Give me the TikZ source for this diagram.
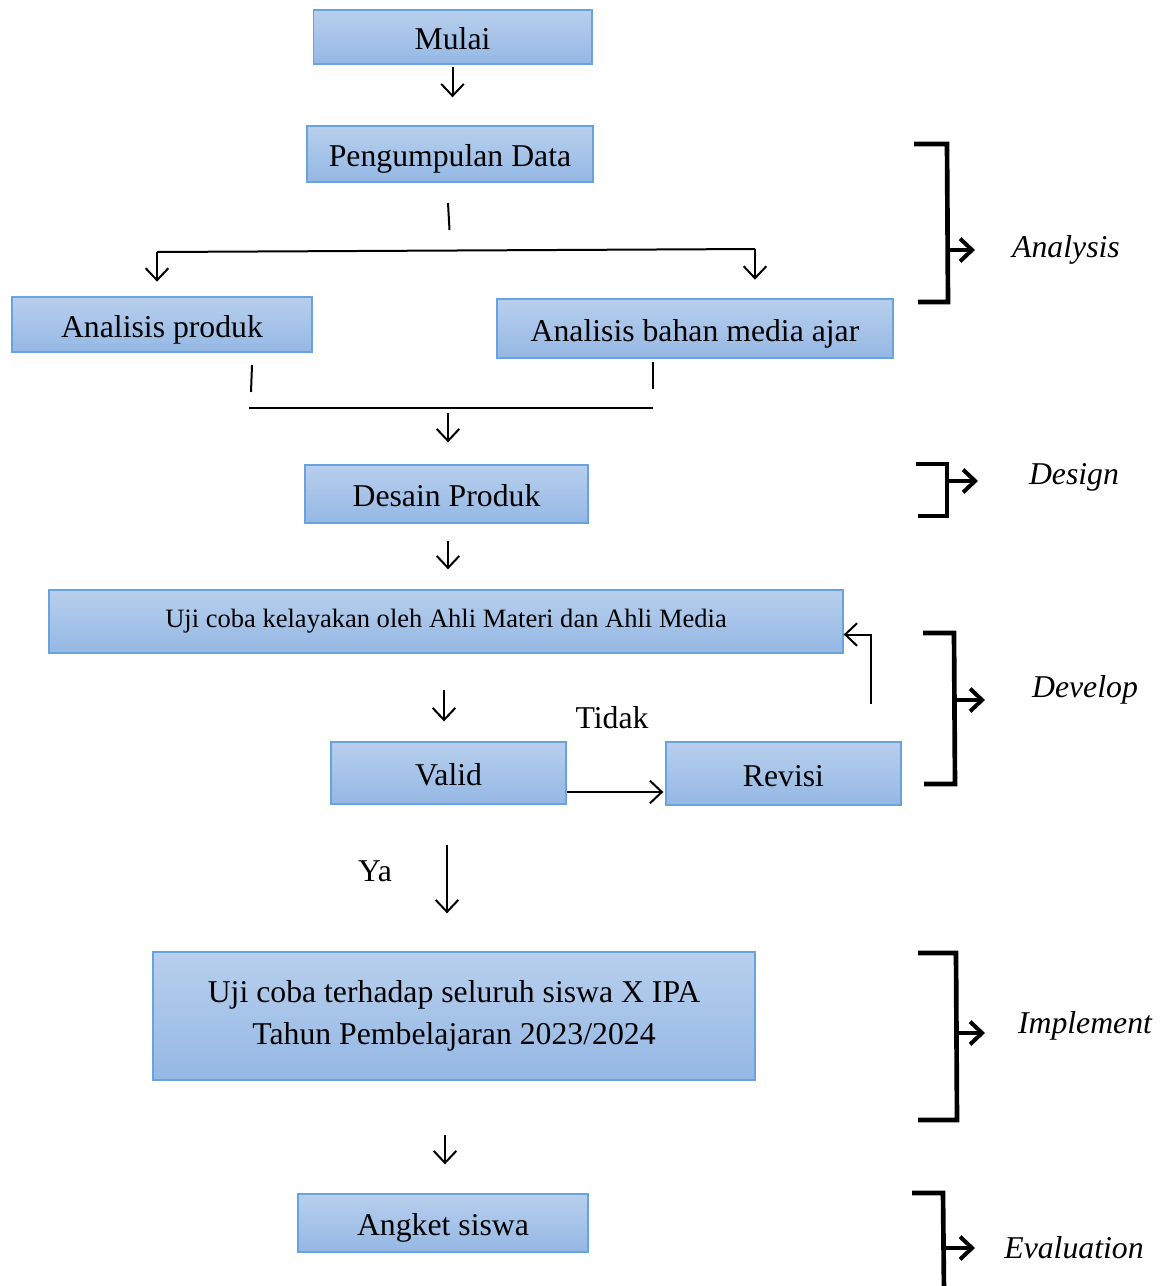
\documentclass[tikz,border=0pt]{standalone}
\usepackage{fontspec}
\setmainfont{Liberation Serif}
\usetikzlibrary{arrows.meta}
\usetikzlibrary{positioning}

\definecolor{boxtop}{RGB}{184,207,237}
\definecolor{boxbot}{RGB}{148,184,228}
\definecolor{boxline}{RGB}{104,163,222}

\tikzset{
  box/.style={rectangle, draw=boxline, line width=1pt, top color=boxtop, bottom color=boxbot,
    inner sep=0pt, align=center, text height=19pt, text depth=0pt, font=\fontsize{23.8}{31.5}\selectfont},
  line/.style={line width=1.5pt},
  brack/.style={line width=3.5pt},
  barrow/.style={line width=3pt, -{Straight Barb[length=9pt,width=17pt]}},
  phase/.style={font=\fontsize{23.8}{28}\selectfont\itshape},
  lbl/.style={font=\fontsize{23.8}{28}\selectfont}
}

\begin{document}
\begin{tikzpicture}[x=0.75pt, y=-0.75pt, >={Straight Barb[length=9pt,width=17pt]}]
  \useasboundingbox (0,0) rectangle (1172,1286);

  % boxes
  \node[box, minimum width=209pt, minimum height=40.5pt] (mulai) at (452.5,37) {Mulai};
  \node[box, minimum width=214.5pt, minimum height=42pt] (data) at (450,154) {Pengumpulan Data};
  \node[box, minimum width=225pt, minimum height=41.25pt] (ap) at (162,324.5) {Analisis produk};
  \node[box, minimum width=297pt, minimum height=44.25pt] (abm) at (695,328.5) {Analisis bahan media ajar};
  \node[box, minimum width=212.25pt, minimum height=43.5pt] (desain) at (446.5,494) {Desain Produk};
  \node[box, minimum width=595.5pt, minimum height=47.25pt, text height=, text depth=, font=\fontsize{19.9}{24}\selectfont] (uji) at (446,621.5) {Uji coba kelayakan oleh Ahli Materi dan Ahli Media};
  \node[box, minimum width=176.25pt, minimum height=46.5pt] (valid) at (448.5,773) {Valid};
  \node[box, minimum width=176.25pt, minimum height=47.25pt] (revisi) at (783.5,773.5) {Revisi};
  \node[box, minimum width=451.5pt, minimum height=96pt, text height=, text depth=] (ujis) at (454,1016) {Uji coba terhadap seluruh siswa X IPA\\Tahun Pembelajaran 2023/2024};
  \node[box, minimum width=217.5pt, minimum height=43.5pt] (angket) at (443,1223) {Angket siswa};

  \node[lbl] (tidak) at (612,718) {Tidak};
  \node[lbl] (ya) at (375,871) {Ya};

  % flow
  \draw[line, ->, shorten <=1.5pt, shorten >=21pt] (mulai.south) -- (mulai.south |- data.north);

  \coordinate (d1) at (448,203);
  \coordinate (d2) at (449.5,230);
  \coordinate (jl) at (157,252);
  \coordinate (jr) at (755,249);
  \draw[line] (d1) -- (d2);
  \draw[line] (jl) -- (jr);
  \draw[line, ->, shorten >=11pt] (jl) -- (jl |- ap.north);
  \draw[line, ->, shorten >=14pt] (jr) -- (jr |- abm.north);

  \coordinate (m1) at (252,365);
  \coordinate (m2) at (251,392);
  \coordinate (m3) at (653,362);
  \coordinate (m4) at (653,389);
  \coordinate (ml) at (249,408);
  \coordinate (mr) at (653,408);
  \draw[line] (m1) -- (m2);
  \draw[line] (m3) -- (m4);
  \draw[line] (ml) -- (mr);
  \coordinate (m5) at (448,413);
  \draw[line, ->, shorten >=16.5pt] (m5) -- (m5 |- desain.north);

  \coordinate (u1) at (448,541);
  \draw[line, ->, shorten >=15pt] (u1) -- (u1 |- uji.north);

  \coordinate (v1) at (444,690);
  \draw[line, ->, shorten >=15pt] (v1) -- (v1 |- valid.north);

  \draw[line, ->, shorten >=1.5pt] ([yshift=-14.25pt]valid.east) -- ([yshift=-14.25pt]valid.east -| revisi.west);

  \coordinate (r1) at (871,704);
  \draw[line, ->] (r1) |- ([yshift=-9.75pt]uji.east);

  \coordinate (y1) at (447,845);
  \draw[line, ->, shorten >=28.5pt] (y1) -- (y1 |- ujis.north);

  \coordinate (a1) at (445,1135);
  \draw[line, ->, shorten >=21.75pt] (a1) -- (a1 |- angket.north);

  % phases
  \draw[brack] (914,144) -- (947,144) -- (948,302) -- (918,302);
  \draw[barrow] (948,250) -- (975,250);
  \node[phase] (an) at (1066,250) {Analysis};

  \draw[brack] (916,464) -- (947,464) -- (947,516) -- (918,516);
  \draw[barrow] (948,481) -- (978,481);
  \node[phase] (de) at (1074,477) {Design};

  \draw[brack] (923,633) -- (954,633) -- (955,784) -- (924,784);
  \draw[barrow] (955,700) -- (985,700);
  \node[phase] (dv) at (1085,690) {Develop};

  \draw[brack] (918,953) -- (956,953) -- (957,1120) -- (918,1120);
  \draw[barrow] (957,1033) -- (985,1033);
  \node[phase] (im) at (1085,1026) {Implement};

  \draw[brack] (912,1193) -- (943,1193) -- (944,1292);
  \draw[barrow] (945,1248) -- (975,1248);
  \node[phase] (ev) at (1074,1248) {Evaluation};
\end{tikzpicture}
\end{document}
